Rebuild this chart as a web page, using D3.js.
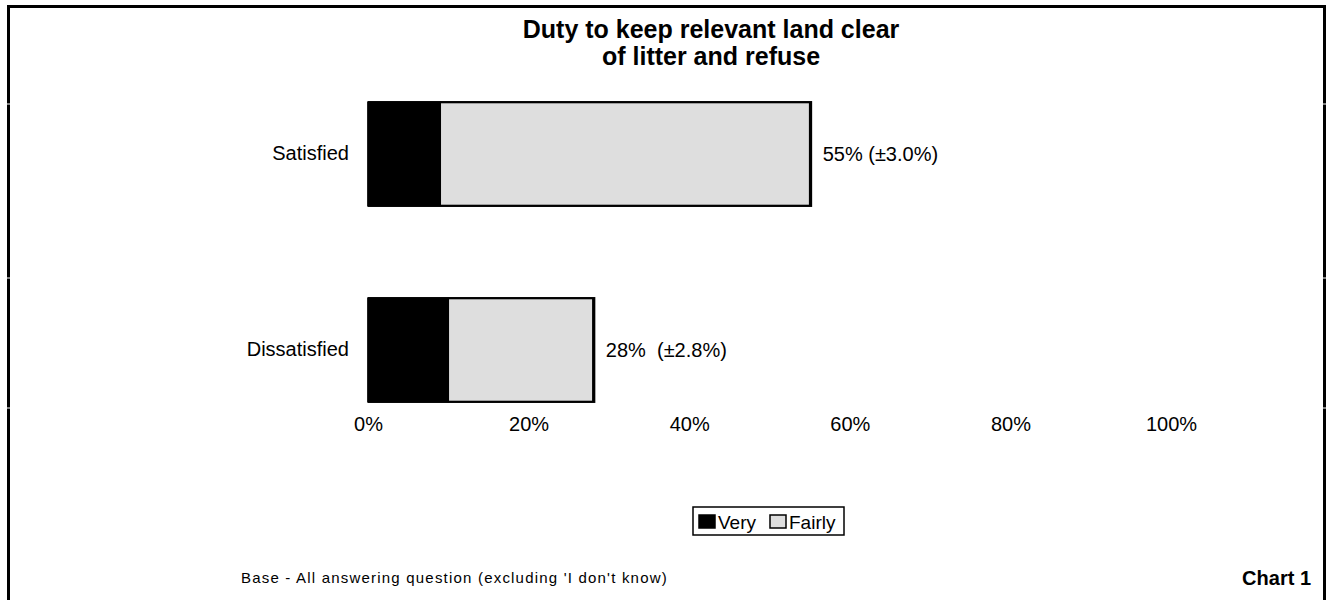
<!DOCTYPE html>
<html>
<head>
<meta charset="utf-8">
<script src="https://cdn.jsdelivr.net/npm/d3@7"></script>
<style>
  html, body { margin: 0; padding: 0; background: #fff; }
  svg { display: block; font-family: "Liberation Sans", Arial, sans-serif; }
  text { white-space: pre; }
</style>
</head>
<body>
<svg id="chart" width="1326" height="600"></svg>
<script>
// ---- data ----
const categories = ["Satisfied", "Dissatisfied"];
const veryValues = [9, 10];
const fairlyValues = [46, 18];
const valueLabels = ["55% (±3.0%)", "28%  (±2.8%)"];
const tickValues = [0, 20, 40, 60, 80, 100];
const seriesNames = ["Very", "Fairly"];
const titleLines = ["Duty to keep relevant land clear", "of litter and refuse"];
const baseNote = "Base - All answering question (excluding 'I don't know)";
const chartLabel = "Chart 1";

const svg = d3.select("#chart");
const colors = { Very: "#000000", Fairly: "#dedede" };
const FONT = "Liberation Sans, Arial, sans-serif";

// frame (open at bottom)
svg.append("path")
  .attr("d", "M8.5,600 L8.5,6.5 L1324.5,6.5 L1324.5,600")
  .attr("fill", "none").attr("stroke", "#000").attr("stroke-width", 3);
// small white gaps in the frame
[104, 278, 408].forEach(y => {
  svg.append("line").attr("x1", 6).attr("x2", 11).attr("y1", y).attr("y2", y)
    .attr("stroke", "#fff").attr("stroke-width", 1);
  svg.append("line").attr("x1", 1322).attr("x2", 1326).attr("y1", y).attr("y2", y)
    .attr("stroke", "#fff").attr("stroke-width", 1);
});

// title
svg.append("text").attr("text-anchor", "middle")
  .attr("font-size", 25).attr("font-weight", "bold")
  .selectAll("tspan").data(titleLines).join("tspan")
  .attr("x", 711).attr("y", (d, i) => 38 + i * 27).text(d => d);

// scales
const x = d3.scaleLinear().domain([0, 100]).range([368, 1171]);
const y = d3.scaleBand().domain(categories).range([56, 448])
  .paddingInner(0.475).paddingOuter(0.2375);

// x axis labels (no line)
const xAxis = d3.axisBottom(x).tickValues(tickValues).tickFormat(d => d + "%").tickSize(0).tickPadding(0);
const gx = svg.append("g").attr("transform", "translate(0,417)").call(xAxis);
gx.select(".domain").remove();
gx.selectAll("text").attr("font-size", 20).attr("fill", "#000").attr("font-family", FONT);

// y axis labels
const yAxis = d3.axisLeft(y).tickSize(0).tickPadding(18);
const gy = svg.append("g").attr("transform", "translate(367,0)").call(yAxis);
gy.select(".domain").remove();
gy.selectAll("text").attr("font-size", 20).attr("fill", "#000").attr("font-family", FONT);

// bars
const rows = categories.map((c, i) => ({ cat: c, very: veryValues[i], fairly: fairlyValues[i], label: valueLabels[i] }));
const g = svg.append("g");
rows.forEach(r => {
  g.append("rect").attr("x", x(0)).attr("y", y(r.cat))
    .attr("width", x(r.very + r.fairly) - x(0)).attr("height", y.bandwidth())
    .attr("fill", "none").attr("stroke", "#000").attr("stroke-width", 3)
    .attr("transform", "translate(1,0)");
  g.append("rect").attr("x", x(0)).attr("y", y(r.cat))
    .attr("width", x(r.very) - x(0)).attr("height", y.bandwidth())
    .attr("fill", colors.Very).attr("stroke", "#000").attr("stroke-width", 1.5);
  g.append("rect").attr("x", x(r.very)).attr("y", y(r.cat))
    .attr("width", x(r.very + r.fairly) - x(r.very)).attr("height", y.bandwidth())
    .attr("fill", colors.Fairly).attr("stroke", "#000").attr("stroke-width", 1.5);
  g.append("text").attr("x", x(r.very + r.fairly) + 13).attr("y", y(r.cat) + y.bandwidth() / 2)
    .attr("dy", "0.35em").attr("font-size", 20).text(r.label);
});

// legend
const lg = svg.append("g").attr("transform", "translate(693,507)");
lg.append("rect").attr("x", 0).attr("y", 0).attr("width", 151).attr("height", 28)
  .attr("fill", "#fff").attr("stroke", "#000").attr("stroke-width", 1.5);
const legendX = [6, 77];
seriesNames.forEach((s, i) => {
  lg.append("rect").attr("x", legendX[i]).attr("y", 8).attr("width", 16).attr("height", 13)
    .attr("fill", colors[s]).attr("stroke", "#000").attr("stroke-width", 1.5);
  lg.append("text").attr("x", legendX[i] + 19).attr("y", 22).attr("font-size", 19).text(s);
});

// footnotes
svg.append("text").attr("x", 241).attr("y", 583).attr("font-size", 15)
  .attr("letter-spacing", 1.2).text(baseNote);
svg.append("text").attr("x", 1311).attr("y", 585).attr("text-anchor", "end")
  .attr("font-size", 20).attr("font-weight", "bold").text(chartLabel);
</script>
</body>
</html>
